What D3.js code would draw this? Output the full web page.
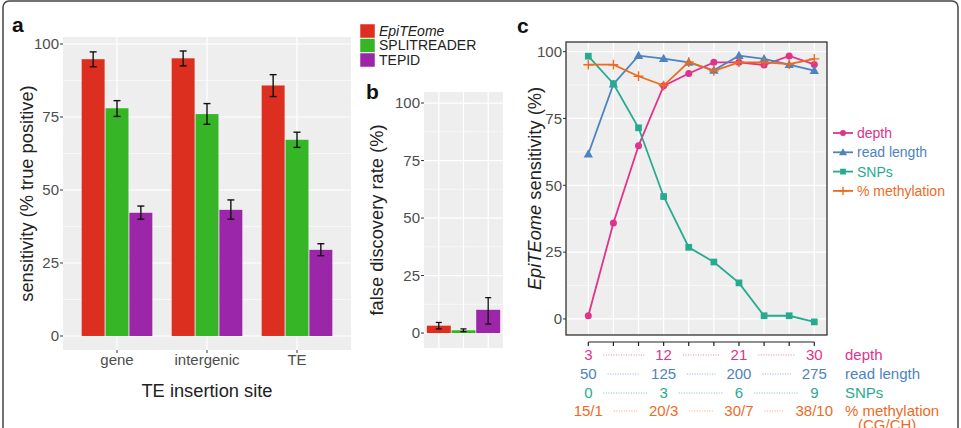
<!DOCTYPE html>
<html>
<head>
<meta charset="utf-8">
<script src="https://cdn.jsdelivr.net/npm/d3@7"></script>
<style>
  body { margin: 0; background: #fff; }
  svg { font-family: "Liberation Sans", Arial, Helvetica, sans-serif; }
  .tick-label { fill: #4d4d4d; font-size: 15px; }
  .title { fill: #222; font-size: 18.3px; }
  .panel-letter { font-size: 21px; font-weight: bold; fill: #111; }
</style>
</head>
<body>
<div id="svg-container"></div>
<script>
// ---------------- data ----------------
const methods = ["EpiTEome", "SPLITREADER", "TEPID"];
const methodColors = ["#dd2f20", "#36b526", "#9b26a7"];

// panel a: sensitivity by insertion site
const sites = ["gene", "intergenic", "TE"];
const sensMean = [
  [94.8, 78.0, 42.2],
  [95.1, 76.0, 43.2],
  [85.8, 67.2, 29.5]
];
const sensLow = [
  [92.2, 75.2, 40.0],
  [92.5, 72.5, 40.0],
  [82.0, 64.6, 27.5]
];
const sensHigh = [
  [97.3, 80.6, 44.5],
  [97.6, 79.6, 46.6],
  [89.5, 69.8, 31.6]
];
const sensTicks = [0, 25, 50, 75, 100];

// panel b: false discovery rate
const fdrMean = [3.2, 1.2, 10.1];
const fdrLow = [1.8, 0.6, 3.9];
const fdrHigh = [4.6, 1.8, 15.4];
const fdrTicks = [0, 25, 50, 75, 100];

// panel c: EpiTEome sensitivity over 10 settings
const steps = [1, 2, 3, 4, 5, 6, 7, 8, 9, 10];
const depthVals = [1.2, 35.9, 64.8, 87.2, 91.8, 96.0, 96.0, 95.0, 98.4, 95.2];
const readLenVals = [61.7, 87.8, 98.5, 97.4, 96.0, 93.0, 98.5, 97.3, 95.1, 92.9];
const snpVals = [98.3, 88.0, 71.5, 45.8, 26.8, 21.3, 13.5, 1.2, 1.2, -1.1];
const methVals = [95.1, 95.1, 90.8, 87.3, 96.1, 92.8, 96.0, 96.0, 95.3, 97.3];
const cTicks = [0, 25, 50, 75, 100];

const seriesNames = ["depth", "read length", "SNPs", "% methylation"];
const seriesColors = ["#e0338b", "#4c83c0", "#27ab90", "#ec6b1f"];
const seriesShapes = ["circle", "triangle", "square", "plus"];

// x-axis table for panel c
const tableSteps = [1, 4, 7, 10];
const depthTicks = ["3", "12", "21", "30"];
const readTicks = ["50", "125", "200", "275"];
const snpTicks = ["0", "3", "6", "9"];
const methTicks = ["15/1", "20/3", "30/7", "38/10"];

// ---------------- svg ----------------
const width = 961, height = 428;
const svg = d3.select("#svg-container").append("svg")
  .attr("width", width).attr("height", height);

const panelBg = "#eeeeee";

// figure frame
svg.append("rect")
  .attr("x", 3).attr("y", 1).attr("width", 955).attr("height", 460)
  .attr("rx", 6)
  .attr("fill", "none").attr("stroke", "#444").attr("stroke-width", 1.5);

function gridY(g, y, x0, x1, ticks) {
  // minor
  for (let i = 0; i < ticks.length - 1; i++) {
    const m = (ticks[i] + ticks[i + 1]) / 2;
    g.append("line").attr("x1", x0).attr("x2", x1)
      .attr("y1", y(m)).attr("y2", y(m))
      .attr("stroke", "#fff").attr("stroke-width", 0.6);
  }
  ticks.forEach(t => {
    g.append("line").attr("x1", x0).attr("x2", x1)
      .attr("y1", y(t)).attr("y2", y(t))
      .attr("stroke", "#fff").attr("stroke-width", 1.2);
  });
}

function yAxisLabels(g, y, x, ticks) {
  ticks.forEach(t => {
    g.append("line").attr("x1", x - 3).attr("x2", x)
      .attr("y1", y(t)).attr("y2", y(t)).attr("stroke", "#333");
    g.append("text").attr("class", "tick-label")
      .attr("x", x - 4).attr("y", y(t)).attr("dy", "0.35em")
      .attr("text-anchor", "end").text(t);
  });
}

////////////////////////////  Panel a  ////////////////////////////
const A = { left: 63, right: 351, top: 37, bottom: 350 };
const xA = d3.scaleLinear().domain([0.4, 3.6]).range([A.left, A.right]);
const yA = d3.scaleLinear().domain([-4.8, 102.4]).range([A.bottom, A.top]);
const ga = svg.append("g");

ga.append("rect").attr("x", A.left).attr("y", A.top)
  .attr("width", A.right - A.left).attr("height", A.bottom - A.top)
  .attr("fill", panelBg);
gridY(ga, yA, A.left, A.right, sensTicks);
sites.forEach((s, i) => {
  ga.append("line").attr("x1", xA(i + 1)).attr("x2", xA(i + 1))
    .attr("y1", A.top).attr("y2", A.bottom)
    .attr("stroke", "#fff").attr("stroke-width", 1.2);
});

const dodge = 0.265, barW = 0.255;
sites.forEach((s, i) => {
  methods.forEach((m, j) => {
    const cx = i + 1 + (j - 1) * dodge;
    ga.append("rect")
      .attr("x", xA(cx - barW / 2))
      .attr("width", xA(cx + barW / 2) - xA(cx - barW / 2))
      .attr("y", yA(sensMean[i][j]))
      .attr("height", yA(0) - yA(sensMean[i][j]))
      .attr("fill", methodColors[j]);
    const e = ga.append("g").attr("stroke", "#111").attr("stroke-width", 1.4);
    e.append("line").attr("x1", xA(cx)).attr("x2", xA(cx))
      .attr("y1", yA(sensLow[i][j])).attr("y2", yA(sensHigh[i][j]));
    [sensLow[i][j], sensHigh[i][j]].forEach(v => {
      e.append("line").attr("x1", xA(cx) - 3.5).attr("x2", xA(cx) + 3.5)
        .attr("y1", yA(v)).attr("y2", yA(v));
    });
  });
  ga.append("line").attr("x1", xA(i + 1)).attr("x2", xA(i + 1))
    .attr("y1", A.bottom).attr("y2", A.bottom + 3).attr("stroke", "#333");
  ga.append("text").attr("class", "tick-label")
    .attr("x", xA(i + 1)).attr("y", 365)
    .attr("text-anchor", "middle").text(s);
});
yAxisLabels(ga, yA, A.left, sensTicks);

ga.append("text").attr("class", "title")
  .attr("text-anchor", "middle")
  .attr("transform", `translate(33, ${(A.top + A.bottom) / 2}) rotate(-90)`)
  .text("sensitivity (% true positive)");
ga.append("text").attr("class", "title")
  .attr("x", (A.left + A.right) / 2).attr("y", 397)
  .attr("text-anchor", "middle").text("TE insertion site");
ga.append("text").attr("class", "panel-letter").attr("x", 12).attr("y", 32).text("a");

////////////////////////////  Legend  ////////////////////////////
const gl = svg.append("g");
methods.forEach((m, j) => {
  const cy = 31 + j * 14.5;
  gl.append("rect").attr("x", 360).attr("y", cy - 7)
    .attr("width", 15).attr("height", 14).attr("fill", methodColors[j])
    .attr("stroke", "#fff").attr("stroke-width", 0.5);
  gl.append("text").attr("x", 379).attr("y", cy).attr("dy", "0.35em")
    .attr("font-size", "14px").attr("fill", "#222")
    .attr("font-style", j === 0 ? "italic" : "normal")
    .text(m);
});

////////////////////////////  Panel b  ////////////////////////////
const B = { left: 424, right: 503, top: 92, bottom: 348 };
const xB = d3.scaleLinear().domain([0.4, 3.6]).range([B.left, B.right]);
const yB = d3.scaleLinear().domain([-6.5, 104.8]).range([B.bottom, B.top]);
const gb = svg.append("g");

gb.append("rect").attr("x", B.left).attr("y", B.top)
  .attr("width", B.right - B.left).attr("height", B.bottom - B.top)
  .attr("fill", panelBg);
gridY(gb, yB, B.left, B.right, fdrTicks);
methods.forEach((m, j) => {
  gb.append("line").attr("x1", xB(j + 1)).attr("x2", xB(j + 1))
    .attr("y1", B.top).attr("y2", B.bottom)
    .attr("stroke", "#fff").attr("stroke-width", 1.2);
});
methods.forEach((m, j) => {
  const cx = j + 1, w = 0.97;
  gb.append("rect")
    .attr("x", xB(cx - w / 2)).attr("width", xB(cx + w / 2) - xB(cx - w / 2))
    .attr("y", yB(fdrMean[j])).attr("height", yB(0) - yB(fdrMean[j]))
    .attr("fill", methodColors[j]);
  const e = gb.append("g").attr("stroke", "#111").attr("stroke-width", 1.3);
  e.append("line").attr("x1", xB(cx)).attr("x2", xB(cx))
    .attr("y1", yB(fdrLow[j])).attr("y2", yB(fdrHigh[j]));
  [fdrLow[j], fdrHigh[j]].forEach(v => {
    e.append("line").attr("x1", xB(cx) - 3).attr("x2", xB(cx) + 3)
      .attr("y1", yB(v)).attr("y2", yB(v));
  });
});
yAxisLabels(gb, yB, B.left, fdrTicks);
gb.append("text").attr("class", "title")
  .attr("text-anchor", "middle")
  .attr("transform", `translate(383, ${(B.top + B.bottom) / 2}) rotate(-90)`)
  .text("false discovery rate (%)");
gb.append("text").attr("class", "panel-letter").attr("x", 366).attr("y", 99).text("b");

////////////////////////////  Panel c  ////////////////////////////
const C = { left: 566, right: 827, top: 42, bottom: 335 };
const xC = d3.scaleLinear().domain([1, 10]).range([588.3, 814.3]);
const yC = d3.scaleLinear().domain([-6, 103.6]).range([C.bottom, C.top]);
const gc = svg.append("g");

gc.append("rect").attr("x", C.left).attr("y", C.top)
  .attr("width", C.right - C.left).attr("height", C.bottom - C.top)
  .attr("fill", panelBg);
gridY(gc, yC, C.left, C.right, cTicks);
steps.forEach(s => {
  gc.append("line").attr("x1", xC(s)).attr("x2", xC(s))
    .attr("y1", C.top).attr("y2", C.bottom)
    .attr("stroke", "#fff").attr("stroke-width", 1.2);
});

function marker(g, shape, x, y, color, size) {
  if (shape === "circle") {
    g.append("circle").attr("cx", x).attr("cy", y).attr("r", size * 0.5).attr("fill", color);
  } else if (shape === "triangle") {
    const s = size * 1.15;
    g.append("path")
      .attr("d", `M${x},${y - s * 0.6}L${x + s * 0.58},${y + s * 0.42}L${x - s * 0.58},${y + s * 0.42}Z`)
      .attr("fill", color);
  } else if (shape === "square") {
    g.append("rect").attr("x", x - size * 0.48).attr("y", y - size * 0.48)
      .attr("width", size * 0.96).attr("height", size * 0.96).attr("fill", color);
  } else {
    const h = size * 0.7;
    g.append("path").attr("d", `M${x - h},${y}H${x + h}M${x},${y - h}V${y + h}`)
      .attr("stroke", color).attr("stroke-width", 1.4).attr("fill", "none");
  }
}

const seriesVals = [depthVals, readLenVals, snpVals, methVals];
const line = d3.line().x((d, i) => xC(steps[i])).y(d => yC(d));
seriesVals.forEach((vals, k) => {
  gc.append("path").datum(vals).attr("d", line)
    .attr("fill", "none").attr("stroke", seriesColors[k]).attr("stroke-width", 1.8);
  vals.forEach((v, i) => marker(gc, seriesShapes[k], xC(steps[i]), yC(v), seriesColors[k], 7));
});

gc.append("rect").attr("x", C.left).attr("y", C.top)
  .attr("width", C.right - C.left).attr("height", C.bottom - C.top)
  .attr("fill", "none").attr("stroke", "#333").attr("stroke-width", 1.3);

yAxisLabels(gc, yC, C.left, cTicks);

// bottom axis line with ticks
gc.append("line").attr("x1", xC(1)).attr("x2", xC(10))
  .attr("y1", 342).attr("y2", 342).attr("stroke", "#222").attr("stroke-width", 1.2);
steps.forEach(s => {
  gc.append("line").attr("x1", xC(s)).attr("x2", xC(s))
    .attr("y1", 342).attr("y2", 346).attr("stroke", "#222").attr("stroke-width", 1.2);
});

// y title with italic EpiTEome
const yt = gc.append("text").attr("class", "title")
  .attr("text-anchor", "middle")
  .attr("transform", `translate(541, ${(C.top + C.bottom) / 2}) rotate(-90)`);
yt.append("tspan").attr("font-style", "italic").text("EpiTEome");
yt.append("tspan").text(" sensitivity (%)");
gc.append("text").attr("class", "panel-letter").attr("x", 517).attr("y", 33).text("c");

// legend c
seriesNames.forEach((n, k) => {
  const cy = 133 + k * 19.3;
  gc.append("line").attr("x1", 833).attr("x2", 853).attr("y1", cy).attr("y2", cy)
    .attr("stroke", seriesColors[k]).attr("stroke-width", 1.8);
  marker(gc, seriesShapes[k], 843, cy, seriesColors[k], 6);
  gc.append("text").attr("x", 857).attr("y", cy).attr("dy", "0.35em")
    .attr("font-size", "14px").attr("fill", seriesColors[k]).text(n);
});

// table under panel c
const rows = [depthTicks, readTicks, snpTicks, methTicks];
const rowY = [355, 374, 393, 411];
rows.forEach((labels, r) => {
  const widths = [];
  labels.forEach((lab, i) => {
    const t = gc.append("text").attr("x", xC(tableSteps[i])).attr("y", rowY[r])
      .attr("dy", "0.35em").attr("text-anchor", "middle")
      .attr("font-size", "15px").attr("fill", seriesColors[r]).text(lab);
    widths.push(t.node().getComputedTextLength());
  });
  for (let i = 0; i < labels.length - 1; i++) {
    const xa = xC(tableSteps[i]) + widths[i] / 2 + 11;
    const xb = xC(tableSteps[i + 1]) - widths[i + 1] / 2 - 11;
    gc.append("line").attr("x1", xa).attr("x2", xb)
      .attr("y1", rowY[r]).attr("y2", rowY[r])
      .attr("stroke", seriesColors[r]).attr("stroke-width", 0.9)
      .attr("stroke-dasharray", "1,1.5").attr("opacity", 0.7);
  }
  gc.append("text").attr("x", 845).attr("y", rowY[r]).attr("dy", "0.35em")
    .attr("font-size", "15px").attr("fill", seriesColors[r]).text(seriesNames[r]);
});
gc.append("text").attr("x", 858).attr("y", 425).attr("dy", "0.35em")
  .attr("font-size", "15px").attr("fill", seriesColors[3]).text("(CG/CH)");
</script>
</body>
</html>
